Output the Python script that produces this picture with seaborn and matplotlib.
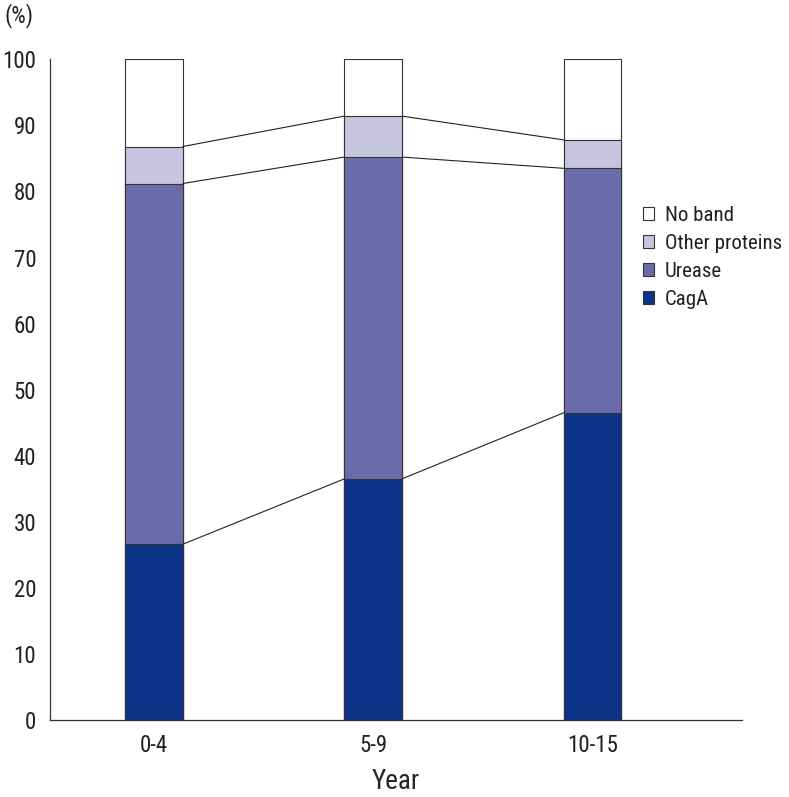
import numpy as np
import pandas as pd
import seaborn as sns
import matplotlib.pyplot as plt
from matplotlib.patches import Patch

years = ["0-4", "5-9", "10-15"]
caga = [26.6, 36.5, 46.5]
urease = [54.6, 48.7, 37.0]
other = [5.6, 6.2, 4.3]
noband = [100 - a - b - c for a, b, c in zip(caga, urease, other)]

series = ["CagA", "Urease", "Other proteins", "No band"]
colors = {"CagA": "#0b3387", "Urease": "#6b6ba9", "Other proteins": "#c6c4df", "No band": "#ffffff"}

sns.set_style("white")
plt.rcParams["font.family"] = ["Roboto Condensed", "DejaVu Sans"]
plt.rcParams["text.color"] = "#231f20"
plt.rcParams["xtick.color"] = "#231f20"
plt.rcParams["ytick.color"] = "#231f20"

df = pd.DataFrame({"year": years, "CagA": caga, "Urease": urease,
                   "Other proteins": other, "No band": noband})
cum = df[series].cumsum(axis=1)
cum["year"] = years

fig = plt.figure(figsize=(7.89, 7.97), dpi=100)
ax = fig.add_axes([0.0634, 0.0966, 0.877, 0.829])

width = 0.263
# cumulative bars, tallest first so lower segments are drawn over them
for s in series[::-1]:
    sns.barplot(data=cum, x="year", y=s, color=colors[s], width=width,
                edgecolor="#333333", linewidth=0.8, saturation=1, ax=ax)

# lines joining the segment tops of neighbouring bars
for s in ["CagA", "Urease", "Other proteins"]:
    vals = cum[s].values
    for i in range(len(vals) - 1):
        ax.plot([i + width / 2, i + 1 - width / 2], [vals[i], vals[i + 1]],
                color="#222222", lw=0.8)

ax.set_ylim(0, 100)
ax.set_xlim(-0.474, 2.682)
ax.set_yticks(np.arange(0, 101, 10))
ax.tick_params(axis="y", direction="in", length=5, width=0.8, labelsize=16.5, pad=10)
ax.tick_params(axis="x", length=0, labelsize=16.5, pad=10)
sns.despine(ax=ax)
for sp in ["left", "bottom"]:
    ax.spines[sp].set_linewidth(0.9)
    ax.spines[sp].set_color("#333333")
ax.set_ylabel("")
ax.set_xlabel("Year", fontsize=19.5, labelpad=8)
fig.text(0.006, 0.98, "(%)", fontsize=16.5, ha="left", va="center")

handles = [Patch(facecolor=colors[s], edgecolor="#333333", linewidth=0.8) for s in series[::-1]]
ax.legend(handles, series[::-1], loc="upper left", bbox_to_anchor=(0.857, 0.778),
          frameon=False, fontsize=15, handlelength=0.55, handleheight=0.55,
          handletextpad=0.5, labelspacing=0.43, borderaxespad=0, borderpad=0)

fig.savefig("out.png", dpi=100)
